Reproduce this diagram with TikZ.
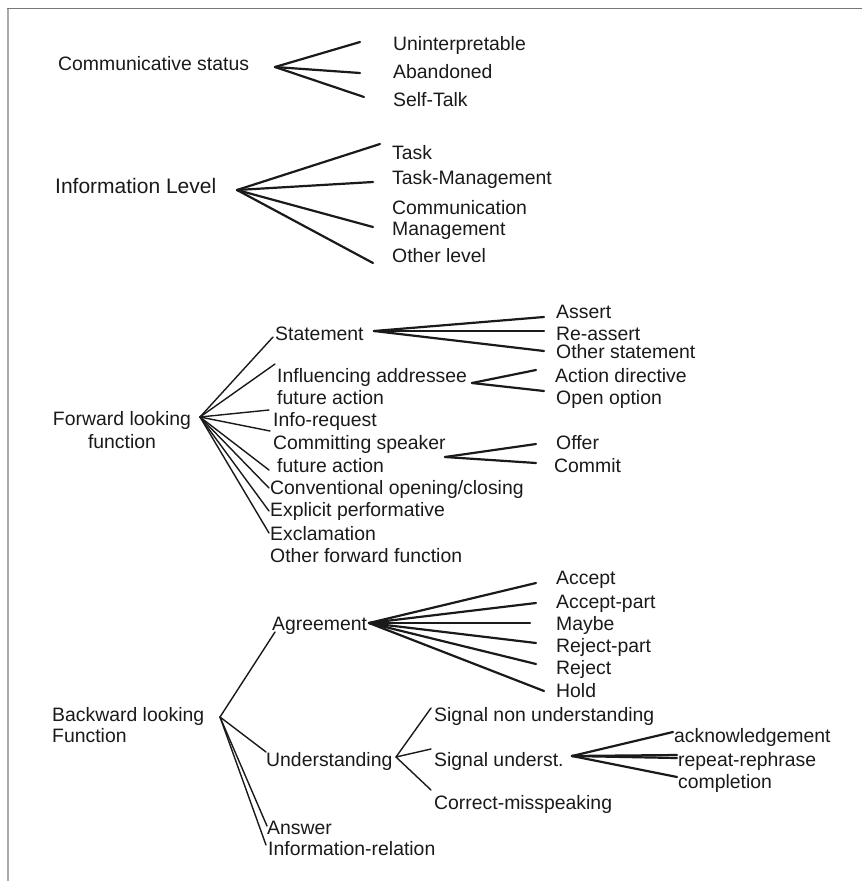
\documentclass[tikz,border=0pt]{standalone}
\usepackage{fontspec}
\setmainfont{Liberation Sans}
\definecolor{ink}{HTML}{1A1A1A}
\definecolor{framegray}{HTML}{777777}
\definecolor{edgegray}{HTML}{AAAAAA}

\begin{document}
\begin{tikzpicture}[x=1pt,y=-1pt,
  lbl/.style={anchor=base west, inner sep=0pt, text=ink, font=\fontsize{19.4}{22}\selectfont},
  mlbl/.style={anchor=north west, inner sep=0pt, text=ink, align=left},
  fan/.style={draw=ink, line width=2.2pt, line cap=round},
  twig/.style={draw=ink, line width=1.4pt, line cap=round},
]
\useasboundingbox (0,0) rectangle (862,881);
\fill[white] (0,0) rectangle (862,881);

% page frame (left and top rules)
\draw[edgegray, line width=2pt] (7.5,8) -- (7.5,881);
\draw[framegray, line width=1pt] (7,8) -- (862,8);

% ---------------- Communicative status ----------------
\node[lbl] (cs) at (58,70) {Communicative status};
\node[lbl] (un) at (393,50) {Uninterpretable};
\node[lbl] (ab) at (393,78) {Abandoned};
\node[lbl] (sft) at (393,106) {Self-Talk};
\coordinate (cs-hub) at (275,67);
\coordinate (un-in) at (360,42);
\coordinate (ab-in) at (360,73);
\coordinate (sft-in) at (364,97);
\foreach \e in {un-in,ab-in,sft-in} \draw[fan] (cs-hub) -- (\e);

% ---------------- Information level ----------------
\node[lbl, font=\fontsize{21}{24}\selectfont] (il) at (55,193.5) {Information Level};
\node[lbl] (task) at (392,159) {Task};
\node[lbl] (tm) at (392,184) {Task-Management};
\node[mlbl, font=\fontsize{19.4}{21}\selectfont] (cm) at (392,200) {Communication\\Management};
\node[lbl] (ol) at (392,262) {Other level};
\coordinate (il-hub) at (237,190);
\coordinate (task-in) at (380,144);
\coordinate (tm-in) at (373,182);
\coordinate (cm-in) at (373,227);
\coordinate (ol-in) at (373,263);
\foreach \e in {task-in,tm-in,cm-in,ol-in} \draw[fan] (il-hub) -- (\e);

% ---------------- Forward looking function ----------------
\node[anchor=north, inner sep=0pt, text=ink, align=center, font=\fontsize{19.4}{23}\selectfont] (fw) at (122,411) {Forward looking\\function};
\node[lbl] (stm) at (275,340) {Statement};
\node[mlbl, font=\fontsize{19.4}{22}\selectfont] (infl) at (277,368) {Influencing addressee\\future action};
\node[lbl] (ireq) at (273,426) {Info-request};
\node[mlbl, font=\fontsize{19.4}{23}\selectfont] (csp) at (273,435) {Committing speaker\\\hspace*{4pt}future action};
\node[lbl] (conv) at (270,494) {Conventional opening/closing};
\node[lbl] (expl) at (270,516) {Explicit performative};
\node[lbl] (excl) at (270,540) {Exclamation};
\node[lbl] (ofw) at (270,562) {Other forward function};

\coordinate (fw-hub) at (200,417);
\coordinate (stm-in) at (273,337);
\coordinate (infl-in) at (275,364);
\coordinate (ireq-in) at (269,410);
\coordinate (csp-in) at (270,431);
\coordinate (cspf-in) at (269,470);
\coordinate (conv-in) at (269,488);
\coordinate (expl-in) at (269,511);
\coordinate (excl-in) at (269,533);
\foreach \e in {stm-in,infl-in,ireq-in,csp-in,cspf-in,conv-in,expl-in,excl-in}
  \draw[twig] (fw-hub) -- (\e);

% Statement subtypes
\node[lbl] (as) at (556,318) {Assert};
\node[lbl] (ras) at (556,340) {Re-assert};
\node[lbl] (ost) at (556,358) {Other statement};
\coordinate (stm-hub) at (374,331);
\coordinate (as-in) at (544,317);
\coordinate (ras-in) at (544,331);
\coordinate (ost-in) at (544,351);
\foreach \e in {as-in,ras-in,ost-in} \draw[fan] (stm-hub) -- (\e);

% Influencing addressee future action subtypes
\node[lbl] (adir) at (555,382) {Action directive};
\node[lbl] (oopt) at (556,404) {Open option};
\coordinate (infl-hub) at (472,383);
\coordinate (adir-in) at (536,370);
\coordinate (oopt-in) at (544,391);
\foreach \e in {adir-in,oopt-in} \draw[fan] (infl-hub) -- (\e);

% Committing speaker future action subtypes
\node[lbl] (offer) at (556,449) {Offer};
\node[lbl] (commit) at (554,472) {Commit};
\coordinate (csp-hub) at (445,457);
\coordinate (offer-in) at (536,444);
\coordinate (commit-in) at (536,463);
\foreach \e in {offer-in,commit-in} \draw[fan] (csp-hub) -- (\e);

% ---------------- Backward looking function ----------------
\node[mlbl, font=\fontsize{19.4}{21}\selectfont] (bw) at (52,707) {Backward looking\\Function};
\node[lbl] (agr) at (272,630) {Agreement};
\node[lbl] (und) at (266,766) {Understanding};
\node[lbl] (ans) at (267,834) {Answer};
\node[lbl] (irel) at (268,855) {Information-relation};
\coordinate (bw-hub) at (220,717);
\coordinate (agr-in) at (275,632);
\coordinate (und-in) at (266,752);
\coordinate (ans-in) at (267,826);
\coordinate (irel-in) at (266,845);
\foreach \e in {agr-in,und-in,ans-in,irel-in} \draw[twig] (bw-hub) -- (\e);

% Agreement subtypes
\node[lbl] (acc) at (556,584) {Accept};
\node[lbl] (accp) at (556,608) {Accept-part};
\node[lbl] (maybe) at (556,630) {Maybe};
\node[lbl] (rejp) at (556,652) {Reject-part};
\node[lbl] (rej) at (556,674) {Reject};
\node[lbl] (hold) at (556,697) {Hold};
\coordinate (agr-hub) at (369,623);
\coordinate (acc-in) at (536,583);
\coordinate (accp-in) at (536,603);
\coordinate (maybe-in) at (530,623);
\coordinate (rejp-in) at (536,643);
\coordinate (rej-in) at (536,664);
\coordinate (hold-in) at (544,691);
\fill[ink] (agr-hub) -- (388,618.5) -- (388,627.5) -- cycle;
\foreach \e in {acc-in,accp-in,maybe-in,rejp-in,rej-in,hold-in} \draw[fan] (agr-hub) -- (\e);

% Understanding subtypes
\node[lbl] (snu) at (434,721) {Signal non understanding};
\node[lbl] (sun) at (434,766) {Signal underst.};
\node[lbl] (cms) at (434,809) {Correct-misspeaking};
\coordinate (und-hub) at (396,757);
\coordinate (snu-in) at (431,708);
\coordinate (sun-in) at (431,749);
\coordinate (cms-in) at (431,790);
\foreach \e in {snu-in,sun-in,cms-in} \draw[twig] (und-hub) -- (\e);

% Signal understanding subtypes
\node[lbl] (ack) at (674,742) {acknowledgement};
\node[lbl] (rr) at (678,766) {repeat-rephrase};
\node[lbl] (cpl) at (678,788) {completion};
\coordinate (sun-hub) at (572,756);
\coordinate (ack-in) at (673,732);
\coordinate (rr-in) at (677,755);
\coordinate (rr-in2) at (677,758);
\coordinate (cpl-in) at (677,777);
\foreach \e in {ack-in,rr-in,rr-in2,cpl-in} \draw[fan] (sun-hub) -- (\e);
\end{tikzpicture}
\end{document}
